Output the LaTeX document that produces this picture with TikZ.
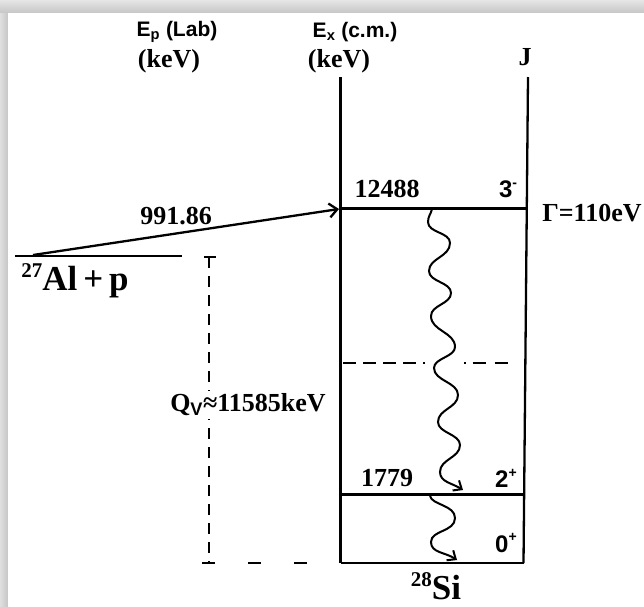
\documentclass[tikz,border=0pt]{standalone}
\usepackage{fontspec}
\setmainfont{Liberation Serif}
\setsansfont{Liberation Sans}
\usetikzlibrary{arrows.meta}
\newcommand\mysupbig[1]{\raisebox{0.36em}{\fontsize{21}{21}\selectfont #1}}
\newcommand\mysupsf[1]{\raisebox{0.42em}{\fontsize{14}{14}\selectfont #1}}
\begin{document}
\begin{tikzpicture}[x=1pt,y=-1pt,
  lbl/.style={font=\fontsize{26}{28}\selectfont\bfseries, inner sep=0pt},
  big/.style={font=\fontsize{35}{38}\selectfont\bfseries, inner sep=0pt},
  sfh/.style={font=\fontsize{21}{24}\selectfont\sffamily\bfseries, inner sep=0pt},
  sfj/.style={font=\fontsize{24}{26}\selectfont\sffamily\bfseries, inner sep=0pt},
  level/.style={line width=3pt},
  axisline/.style={line width=2.3pt},
  dashv/.style={line width=2.3pt, dash pattern=on 11pt off 8pt},
  gam/.style={line width=2pt, -{Straight Barb[length=7pt,width=12pt,line width=2pt]}}]
\useasboundingbox (0,0) rectangle (644,606);
\shade[top color=gray!20, bottom color=gray!45] (0,0) rectangle (644,13);
\shade[left color=gray!25, right color=gray!45] (0,13) rectangle (8,606);
\fill[white] (8,13) rectangle (644,606);

% frame coordinates
\coordinate (LT) at (340.5,77);
\coordinate (LB) at (340.5,563);
\coordinate (RT) at (528,77);
\coordinate (RB) at (523.5,563);
\coordinate (L3a) at (340.5,208);
\coordinate (L3b) at (526.8,208);
\coordinate (L2a) at (340.5,494);
\coordinate (L2b) at (524.1,494);
\coordinate (Da) at (343,363);
\coordinate (Db) at (425,363);
\coordinate (Dc) at (464,363);
\coordinate (Dd) at (512,363);
\coordinate (Pa) at (15,256);
\coordinate (Pb) at (182,256);
\coordinate (As) at (33,255);
\coordinate (Ae) at (339,209);
\coordinate (Qt) at (209,257);
\coordinate (Qb) at (209,563);
\coordinate (Qcl) at (204,257);
\coordinate (Qcr) at (216,257);
\coordinate (Hb1) at (202,563);
\coordinate (Hb2) at (312,563);

% verticals and levels
\draw[axisline] (LT) -- (LB);
\draw[axisline] (RT) -- (RB);
\draw[level] (L3a) -- (L3b);
\draw[level] (L2a) -- (L2b);
\draw[line width=2.6pt] (LB) -- (RB);
\draw[line width=2.3pt, dash pattern=on 13pt off 7pt] (Da) -- (Db);
\draw[line width=2.3pt, dash pattern=on 1.5pt off 7pt on 13pt off 9pt on 13pt off 9pt] (Dc) -- (Dd);

% entrance channel
\draw[line width=2.3pt] (Pa) -- (Pb);
\draw[line width=2.3pt, -{Straight Barb[length=8pt,width=14pt,line width=2.3pt]}] (As) -- (Ae);

% Q value
\draw[dashv] (Qt) -- (Qb);
\draw[line width=2.3pt] (Qcl) -- (Qcr);
\draw[line width=2.3pt, dash pattern=on 13pt off 33pt] (Hb1) -- (Hb2);

% gamma transitions
\draw[gam] (432,209) .. controls (431,214) and (428,216) .. (428,222)
  .. controls (428,233) and (450,232) .. (450,243)
  .. controls (450,257) and (429,258) .. (429,271)
  .. controls (429,282) and (451,282) .. (451,293)
  .. controls (451,304) and (431,305) .. (431,316)
  .. controls (431,331) and (455,332) .. (455,347)
  .. controls (455,357) and (434,358) .. (434,368)
  .. controls (434,381) and (458,382) .. (458,395)
  .. controls (458,408) and (438,409) .. (438,422)
  .. controls (438,433) and (460,434) .. (460,445)
  .. controls (460,458) and (440,459) .. (440,472)
  .. controls (440,482) and (452,483) .. (463,490);
\draw[gam] (430,496) .. controls (432,505) and (455,505) .. (455,518)
  .. controls (455,532) and (431,530) .. (431,542)
  .. controls (431,553) and (445,552) .. (457,560);

% labels
\node[sfh] (hEp) at (177,32) {E\textsubscript{p} (Lab)};
\node[lbl] (hk1) at (169,61) {(keV)};
\node[sfh] (hEx) at (355,32) {E\textsubscript{x} (c.m.)};
\node[lbl] (hk2) at (339,61) {(keV)};
\node[lbl] (hJ) at (525,57) {J};
\node[lbl] (e1) at (387,189) {12488};
\node[sfj] (j1) at (508,189) {3\mysupsf{-}};
\node[lbl] (gw) at (592,213) {Γ=110eV};
\node[lbl] (ep) at (176,216) {991.86};
\node[big] (al) at (75,281) {\mysupbig{27}Al\,+\,p};
\node[lbl, fill=white, inner sep=3pt] (qv) at (248,405) {Q\textsubscript{\sffamily V}≈11585keV};
\node[lbl] (e2) at (387,478) {1779};
\node[sfj] (j2) at (506,478) {2\mysupsf{+}};
\node[sfj] (j0) at (506,543) {0\mysupsf{+}};
\node[big] (si) at (436,586) {\mysupbig{28}Si};
\end{tikzpicture}
\end{document}
